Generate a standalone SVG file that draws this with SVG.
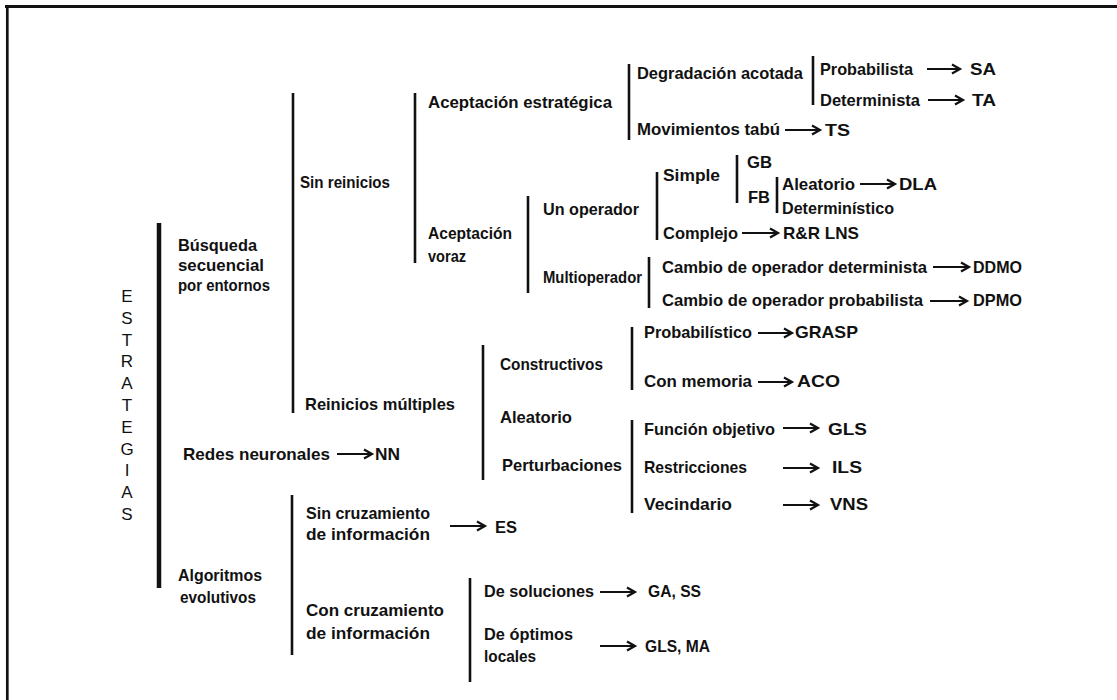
<svg xmlns="http://www.w3.org/2000/svg" width="1117" height="700" viewBox="0 0 1117 700">
<style>
.t{font-family:"Liberation Sans Narrow","Liberation Sans",Arial,sans-serif;font-weight:bold;font-size:17px;fill:#111}
.v{font-family:"Liberation Sans Narrow","Liberation Sans",Arial,sans-serif;font-weight:normal;font-size:17px;fill:#111;text-anchor:middle}
.bar{stroke:#111;stroke-width:2.6;fill:none}
.arr{stroke:#111;stroke-width:2;fill:none;marker-end:url(#ah)}
</style>
<defs>
<marker id="ah" markerUnits="userSpaceOnUse" markerWidth="14" markerHeight="14" refX="11" refY="6" orient="auto">
<path d="M3,1.5 L11,6 L3,10.5" stroke="#111" stroke-width="2.2" fill="none"/>
</marker>
</defs>
<rect width="1117" height="700" fill="#fff"/>
<g id="frame">
<line x1="5" y1="6.5" x2="1117" y2="6.5" stroke="#111" stroke-width="3"/>
<line x1="7.3" y1="5" x2="7.3" y2="700" stroke="#111" stroke-width="2.7"/>
</g>
<g id="connectors">
<line x1="159" y1="223" x2="159" y2="588" stroke="#111" stroke-width="4.5"/>
<line class="bar" x1="293" y1="93" x2="293" y2="413"/>
<line class="bar" x1="415" y1="93" x2="415" y2="263"/>
<line class="bar" x1="629" y1="64" x2="629" y2="140"/>
<line class="bar" x1="813" y1="56" x2="813" y2="105"/>
<line class="bar" x1="528" y1="196" x2="528" y2="293"/>
<line class="bar" x1="657" y1="172" x2="657" y2="240"/>
<line class="bar" x1="737" y1="155" x2="737" y2="203"/>
<line class="bar" x1="777" y1="177" x2="777" y2="213"/>
<line class="bar" x1="649" y1="257" x2="649" y2="308"/>
<line class="bar" x1="483" y1="345" x2="483" y2="480"/>
<line class="bar" x1="632" y1="327" x2="632" y2="390"/>
<line class="bar" x1="632" y1="420" x2="632" y2="513"/>
<line class="bar" x1="292" y1="495" x2="292" y2="655"/>
<line class="bar" x1="470" y1="578" x2="470" y2="682"/>
<path class="arr" d="M927,69 H960"/>
<path class="arr" d="M928,100 H963"/>
<path class="arr" d="M785,130 H820"/>
<path class="arr" d="M860,184 H895"/>
<path class="arr" d="M742,233 H778"/>
<path class="arr" d="M933,267 H969"/>
<path class="arr" d="M930,301 H967"/>
<path class="arr" d="M758,333 H792"/>
<path class="arr" d="M758,382 H792"/>
<path class="arr" d="M783,428 H818"/>
<path class="arr" d="M783,468 H818"/>
<path class="arr" d="M783,505 H818"/>
<path class="arr" d="M337,454 H372"/>
<path class="arr" d="M450,526 H485"/>
<path class="arr" d="M600,592 H635"/>
<path class="arr" d="M600,646 H635"/>
</g>
<g id="n-estrategias">
<text class="v" x="127" y="302">E</text>
<text class="v" x="127" y="323.8">S</text>
<text class="v" x="127" y="345.6">T</text>
<text class="v" x="127" y="367.4">R</text>
<text class="v" x="127" y="389.2">A</text>
<text class="v" x="127" y="411">T</text>
<text class="v" x="127" y="432.8">E</text>
<text class="v" x="127" y="454.6">G</text>
<text class="v" x="127" y="476.4">I</text>
<text class="v" x="127" y="498.2">A</text>
<text class="v" x="127" y="520">S</text>
</g>
<g id="n-busqueda">
<text class="t" x="178" y="251" textLength="79" lengthAdjust="spacingAndGlyphs">Búsqueda</text>
<text class="t" x="178" y="271" textLength="86" lengthAdjust="spacingAndGlyphs">secuencial</text>
<text class="t" x="178" y="291" textLength="92" lengthAdjust="spacingAndGlyphs">por entornos</text>
</g>
<g id="n-redes">
<text class="t" x="183" y="460" textLength="147" lengthAdjust="spacingAndGlyphs">Redes neuronales</text>
</g>
<g id="n-nn"><text class="t" x="375" y="460" textLength="25" lengthAdjust="spacingAndGlyphs">NN</text></g>
<g id="n-algoritmos">
<text class="t" x="178" y="581" textLength="84" lengthAdjust="spacingAndGlyphs">Algoritmos</text>
<text class="t" x="180" y="603" textLength="76" lengthAdjust="spacingAndGlyphs">evolutivos</text>
</g>
<g id="n-sinreinicios"><text class="t" x="300" y="188" textLength="90" lengthAdjust="spacingAndGlyphs">Sin reinicios</text></g>
<g id="n-reinicios"><text class="t" x="305" y="410" textLength="150" lengthAdjust="spacingAndGlyphs">Reinicios múltiples</text></g>
<g id="n-acept-estr"><text class="t" x="428" y="108" textLength="184" lengthAdjust="spacingAndGlyphs">Aceptación estratégica</text></g>
<g id="n-acept-voraz">
<text class="t" x="428" y="239" textLength="84" lengthAdjust="spacingAndGlyphs">Aceptación</text>
<text class="t" x="428" y="262" textLength="38" lengthAdjust="spacingAndGlyphs">voraz</text>
</g>
<g id="n-degradacion"><text class="t" x="637" y="79" textLength="166" lengthAdjust="spacingAndGlyphs">Degradación acotada</text></g>
<g id="n-probabilista"><text class="t" x="820" y="75" textLength="93" lengthAdjust="spacingAndGlyphs">Probabilista</text></g>
<g id="n-sa"><text class="t" x="970" y="75" textLength="26" lengthAdjust="spacingAndGlyphs">SA</text></g>
<g id="n-determinista"><text class="t" x="820" y="106" textLength="100" lengthAdjust="spacingAndGlyphs">Determinista</text></g>
<g id="n-ta"><text class="t" x="972" y="106" textLength="24" lengthAdjust="spacingAndGlyphs">TA</text></g>
<g id="n-movimientos"><text class="t" x="637" y="135" textLength="143" lengthAdjust="spacingAndGlyphs">Movimientos tabú</text></g>
<g id="n-ts"><text class="t" x="825" y="136" textLength="25" lengthAdjust="spacingAndGlyphs">TS</text></g>
<g id="n-unoperador"><text class="t" x="543" y="215" textLength="96" lengthAdjust="spacingAndGlyphs">Un operador</text></g>
<g id="n-multioperador"><text class="t" x="543" y="283" textLength="99" lengthAdjust="spacingAndGlyphs">Multioperador</text></g>
<g id="n-simple"><text class="t" x="663" y="181" textLength="57" lengthAdjust="spacingAndGlyphs">Simple</text></g>
<g id="n-gb"><text class="t" x="747" y="168" textLength="25" lengthAdjust="spacingAndGlyphs">GB</text></g>
<g id="n-fb"><text class="t" x="748" y="203" textLength="22" lengthAdjust="spacingAndGlyphs">FB</text></g>
<g id="n-aleatorio1"><text class="t" x="782" y="190" textLength="73" lengthAdjust="spacingAndGlyphs">Aleatorio</text></g>
<g id="n-dla"><text class="t" x="899" y="190" textLength="38" lengthAdjust="spacingAndGlyphs">DLA</text></g>
<g id="n-deterministico"><text class="t" x="782" y="214" textLength="112" lengthAdjust="spacingAndGlyphs">Determinístico</text></g>
<g id="n-complejo"><text class="t" x="663" y="239" textLength="75" lengthAdjust="spacingAndGlyphs">Complejo</text></g>
<g id="n-rr"><text class="t" x="783" y="239" textLength="76" lengthAdjust="spacingAndGlyphs">R&amp;R  LNS</text></g>
<g id="n-cambio-det"><text class="t" x="662" y="273" textLength="265" lengthAdjust="spacingAndGlyphs">Cambio de operador determinista</text></g>
<g id="n-ddmo"><text class="t" x="973" y="273" textLength="49" lengthAdjust="spacingAndGlyphs">DDMO</text></g>
<g id="n-cambio-prob"><text class="t" x="662" y="306" textLength="261" lengthAdjust="spacingAndGlyphs">Cambio de operador probabilista</text></g>
<g id="n-dpmo"><text class="t" x="973" y="306" textLength="49" lengthAdjust="spacingAndGlyphs">DPMO</text></g>
<g id="n-constructivos"><text class="t" x="500" y="370" textLength="103" lengthAdjust="spacingAndGlyphs">Constructivos</text></g>
<g id="n-aleatorio2"><text class="t" x="500" y="423" textLength="72" lengthAdjust="spacingAndGlyphs">Aleatorio</text></g>
<g id="n-perturbaciones"><text class="t" x="502" y="471" textLength="120" lengthAdjust="spacingAndGlyphs">Perturbaciones</text></g>
<g id="n-probabilistico"><text class="t" x="644" y="338" textLength="108" lengthAdjust="spacingAndGlyphs">Probabilístico</text></g>
<g id="n-grasp"><text class="t" x="795" y="338" textLength="63" lengthAdjust="spacingAndGlyphs">GRASP</text></g>
<g id="n-conmemoria"><text class="t" x="644" y="387" textLength="108" lengthAdjust="spacingAndGlyphs">Con memoria</text></g>
<g id="n-aco"><text class="t" x="797" y="387" textLength="43" lengthAdjust="spacingAndGlyphs">ACO</text></g>
<g id="n-funcion"><text class="t" x="644" y="435" textLength="131" lengthAdjust="spacingAndGlyphs">Función objetivo</text></g>
<g id="n-gls1"><text class="t" x="828" y="435" textLength="39" lengthAdjust="spacingAndGlyphs">GLS</text></g>
<g id="n-restricciones"><text class="t" x="644" y="473" textLength="103" lengthAdjust="spacingAndGlyphs">Restricciones</text></g>
<g id="n-ils"><text class="t" x="832" y="473" textLength="30" lengthAdjust="spacingAndGlyphs">ILS</text></g>
<g id="n-vecindario"><text class="t" x="644" y="510" textLength="88" lengthAdjust="spacingAndGlyphs">Vecindario</text></g>
<g id="n-vns"><text class="t" x="830" y="510" textLength="38" lengthAdjust="spacingAndGlyphs">VNS</text></g>
<g id="n-sincruz">
<text class="t" x="306" y="519" textLength="124" lengthAdjust="spacingAndGlyphs">Sin cruzamiento</text>
<text class="t" x="306" y="540" textLength="124" lengthAdjust="spacingAndGlyphs">de información</text>
</g>
<g id="n-es"><text class="t" x="495" y="533" textLength="22" lengthAdjust="spacingAndGlyphs">ES</text></g>
<g id="n-concruz">
<text class="t" x="306" y="616" textLength="138" lengthAdjust="spacingAndGlyphs">Con cruzamiento</text>
<text class="t" x="306" y="639" textLength="124" lengthAdjust="spacingAndGlyphs">de información</text>
</g>
<g id="n-desoluciones"><text class="t" x="484" y="597" textLength="110" lengthAdjust="spacingAndGlyphs">De soluciones</text></g>
<g id="n-gass"><text class="t" x="648" y="597" textLength="53" lengthAdjust="spacingAndGlyphs">GA, SS</text></g>
<g id="n-deoptimos">
<text class="t" x="484" y="640" textLength="89" lengthAdjust="spacingAndGlyphs">De óptimos</text>
<text class="t" x="484" y="662" textLength="52" lengthAdjust="spacingAndGlyphs">locales</text>
</g>
<g id="n-glsma"><text class="t" x="645" y="652" textLength="65" lengthAdjust="spacingAndGlyphs">GLS, MA</text></g>
</svg>
